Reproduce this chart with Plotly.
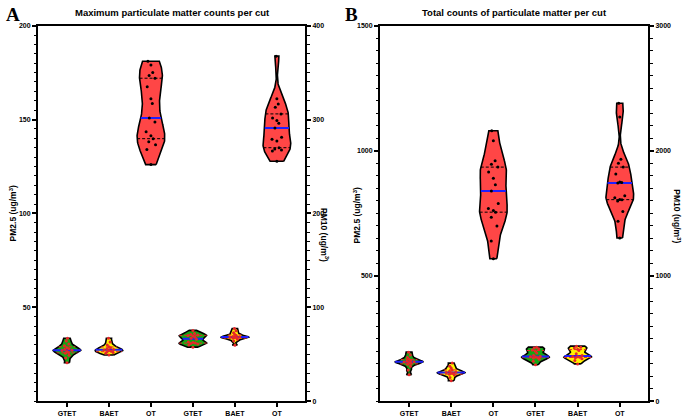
import numpy as np
import plotly.graph_objects as go

# ---------------- data ----------------
categories = ["GTET", "BAET", "OT", "GTET", "BAET", "OT"]

# Panel A: maximum counts per cut (first three PM2.5, last three PM10)
a_gtet_pm25 = [20.5, 23, 24.5, 25.5, 26, 26.5, 27, 27.2, 27.5, 28, 28.5, 29.5, 30.5, 32, 33.5]
a_baet_pm25 = [24.6, 25.5, 26, 26.3, 26.6, 27, 27.3, 27.6, 28, 28.5, 29, 30, 31.5, 33.5]
a_ot_pm25 = [126, 134, 136.6, 138.2, 139.8, 141.4, 143.5, 148.7, 150.8, 158.6, 161, 167.5, 172, 173.5, 175, 179, 181]
a_gtet_pm10 = [57.6, 60, 61, 61.5, 62, 62.5, 63, 66, 67, 68, 69.5, 70, 70.5, 71, 72, 75.4]
a_baet_pm10 = [59.7, 64, 66, 67, 67.5, 68, 68.3, 68.7, 69, 70, 71, 73, 75, 77.5]
a_ot_pm10 = [255.5, 266.5, 267.5, 268.5, 270, 277, 279, 281, 291, 296, 299, 301.5, 306, 313, 316.5, 322, 367.5]

# Panel B: total counts per cut
b_gtet_pm25 = [106, 125, 140, 148, 152, 155, 157, 158, 160, 163, 168, 175, 185, 196]
b_baet_pm25 = [82, 95, 105, 108, 111, 113, 115, 117, 120, 125, 133, 140, 153]
b_ot_pm25 = [569, 640, 700, 735, 755, 762, 770, 790, 840, 865, 890, 915, 935, 946, 960, 1040, 1080]
b_gtet_pm10 = [291, 320, 335, 345, 350, 353, 355, 358, 365, 385, 400, 410, 420, 425, 432]
b_baet_pm10 = [298, 325, 340, 348, 352, 355, 358, 365, 380, 405, 415, 425, 432, 440]
b_ot_pm10 = [1304, 1437, 1516, 1600, 1610, 1612, 1626, 1642, 1744, 1748, 1751, 1815, 1870, 1901, 1932, 2270, 2380]

panel_a_titles = ["Maximum particulate matter counts per cut"]
panel_b_titles = ["Total counts of particulate matter per cut"]

GREEN = "rgb(20,165,20)"
YELLOW = "rgb(255,242,0)"
RED = "rgb(255,70,70)"
group_colors = [GREEN, YELLOW, RED, GREEN, YELLOW, RED]

FONT = "Liberation Sans, Arial, sans-serif"

fig = go.Figure()

HALF_W = 0.33


def silverman(v):
    v = np.asarray(v, float)
    sd = v.std(ddof=1)
    iqr = (np.percentile(v, 75) - np.percentile(v, 25)) / 1.34
    s = min(sd, iqr) if iqr > 0 else sd
    return 0.9 * s * len(v) ** (-0.2)


def add_violin(vals, pos, color, xa, ya, bwf=0.8):
    v = np.asarray(vals, float)
    h = silverman(v) * bwf
    grid = np.linspace(v.min(), v.max(), 160)
    dens = np.exp(-0.5 * ((grid[:, None] - v[None, :]) / h) ** 2).sum(axis=1)
    dens = dens / dens.max() * HALF_W

    def w(y):
        return np.interp(y, grid, dens)

    xs = np.concatenate([pos + dens, (pos - dens)[::-1], [pos + dens[0]]])
    ys = np.concatenate([grid, grid[::-1], [grid[0]]])
    fig.add_trace(go.Scatter(x=xs, y=ys, mode="lines", fill="toself",
                             fillcolor=color, line=dict(color="black", width=1.6),
                             xaxis=xa, yaxis=ya, hoverinfo="skip", showlegend=False))
    q1, med, q3 = np.percentile(v, [25, 50, 75])
    dcol = "black" if color == RED else "rgb(230,40,40)"
    for q in (q1, q3):
        fig.add_trace(go.Scatter(x=[pos - w(q), pos + w(q)], y=[q, q], mode="lines",
                                 line=dict(color=dcol, width=1, dash="3px,2px"),
                                 xaxis=xa, yaxis=ya, hoverinfo="skip", showlegend=False))
    fig.add_trace(go.Scatter(x=[pos - w(med), pos + w(med)], y=[med, med], mode="lines",
                             line=dict(color="rgb(30,30,255)", width=2),
                             xaxis=xa, yaxis=ya, hoverinfo="skip", showlegend=False))
    pattern = [0, -0.45, 0.45, -0.2, 0.2]
    px = [pos + pattern[i % 5] * w(y) * 0.8 for i, y in enumerate(v)]
    fig.add_trace(go.Scatter(x=px, y=v, mode="markers",
                             marker=dict(color=dcol if color != RED else "black", size=3),
                             xaxis=xa, yaxis=ya, hoverinfo="skip", showlegend=False))


panel_a = [a_gtet_pm25, a_baet_pm25, a_ot_pm25, a_gtet_pm10, a_baet_pm10, a_ot_pm10]
panel_b = [b_gtet_pm25, b_baet_pm25, b_ot_pm25, b_gtet_pm10, b_baet_pm10, b_ot_pm10]

for i, vals in enumerate(panel_a):
    add_violin(vals, i, group_colors[i], "x", "y" if i < 3 else "y2")
for i, vals in enumerate(panel_b):
    add_violin(vals, i, group_colors[i], "x2", "y3" if i < 3 else "y4")

W, H = 685, 417
ydom = [(H - 404) / H, (H - 22) / H]
tickfont = dict(family=FONT, size=7, color="black", weight="bold")


def xax(dom, anchor):
    return dict(domain=dom, anchor=anchor, range=[-0.69, 5.67], tickmode="array",
                tickvals=list(range(6)), ticktext=categories, showline=True,
                linecolor="black", linewidth=2, mirror=True, ticks="outside",
                ticklen=4, tickwidth=1.5, tickcolor="black", showgrid=False,
                zeroline=False, tickfont=tickfont, fixedrange=True)


def yax(rng, tickvals, minor_dt, side="left", overlay=None, anchor=None):
    d = dict(domain=ydom, range=rng, tickmode="array", tickvals=tickvals,
             showline=True, linecolor="black", linewidth=2, ticks="outside",
             ticklen=4, tickwidth=1.5, tickcolor="black", showgrid=False,
             zeroline=False, tickfont=tickfont, side=side,
             minor=dict(ticks="outside", ticklen=2.5, tickwidth=1, tickcolor="black",
                        tickmode="linear", tick0=0, dtick=minor_dt, showgrid=False))
    if overlay:
        d["overlaying"] = overlay
    if anchor:
        d["anchor"] = anchor
    return d


fig.update_layout(
    width=W, height=H, margin=dict(l=0, r=0, t=0, b=0),
    paper_bgcolor="white", plot_bgcolor="white", showlegend=False,
    xaxis=xax([38 / W, 305 / W], "y"),
    yaxis=yax([0, 200], [50, 100, 150, 200], 5, anchor="x"),
    yaxis2=yax([0, 400], [0, 100, 200, 300, 400], 10, side="right", overlay="y", anchor="x"),
    xaxis2=xax([380 / W, 648 / W], "y3"),
    yaxis3=yax([0, 1500], [500, 1000, 1500], 50, anchor="x2"),
    yaxis4=yax([0, 3000], [0, 1000, 2000, 3000], 100, side="right", overlay="y3", anchor="x2"),
)

ann = [
    dict(text="A", x=4 / W, y=1 - 11 / H, xanchor="left", yanchor="middle",
         font=dict(family="Liberation Serif, Times New Roman, serif", size=19, color="black", weight="bold")),
    dict(text="B", x=343 / W, y=1 - 11 / H, xanchor="left", yanchor="middle",
         font=dict(family="Liberation Serif, Times New Roman, serif", size=19, color="black", weight="bold")),
    dict(text=panel_a_titles[0], x=172 / W, y=1 - 9 / H, xanchor="center", yanchor="middle",
         font=dict(family=FONT, size=9.5, color="black", weight="bold")),
    dict(text=panel_b_titles[0], x=514 / W, y=1 - 9 / H, xanchor="center", yanchor="middle",
         font=dict(family=FONT, size=9.5, color="black", weight="bold")),
    dict(text="PM2.5 (ug/m<sup>3</sup>)", x=13 / W, y=1 - 213 / H, textangle=-90,
         xanchor="center", yanchor="middle", font=dict(family=FONT, size=8.5, color="black", weight="bold")),
    dict(text="PM10 (ug/m<sup>3</sup>)", x=325 / W, y=1 - 235 / H, textangle=90,
         xanchor="center", yanchor="middle", font=dict(family=FONT, size=8.5, color="black", weight="bold")),
    dict(text="PM2.5 (ug/m<sup>3</sup>)", x=357 / W, y=1 - 215 / H, textangle=-90,
         xanchor="center", yanchor="middle", font=dict(family=FONT, size=8.5, color="black", weight="bold")),
    dict(text="PM10 (ug/m<sup>3</sup>)", x=677 / W, y=1 - 216 / H, textangle=90,
         xanchor="center", yanchor="middle", font=dict(family=FONT, size=8.5, color="black", weight="bold")),
]
for a in ann:
    a.update(xref="paper", yref="paper", showarrow=False)
fig.update_layout(annotations=ann)

fig.write_html("out.html", config={"displayModeBar": False},
               post_script="document.body.style.margin='0';document.body.style.overflow='hidden';")
